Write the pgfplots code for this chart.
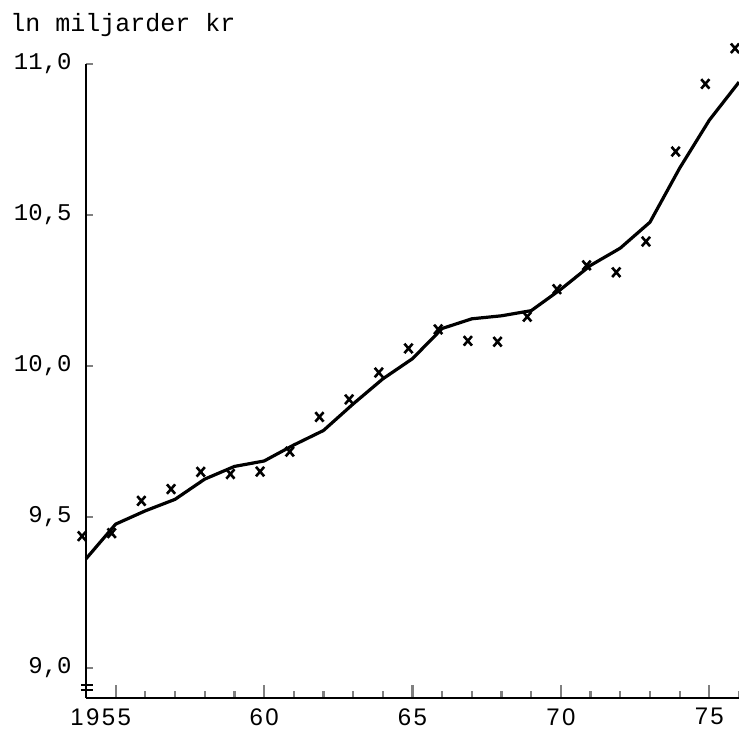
\documentclass[border=0pt]{standalone}
\usepackage{fontspec}
\setmainfont{Liberation Sans}
\newfontfamily\monofont{Liberation Mono}
\newfontfamily\xfont[LetterSpace=10]{Liberation Sans}
\usepackage{pgfplots}
\pgfplotsset{compat=1.18}
\begin{document}
\begin{tikzpicture}
\useasboundingbox (-43pt,-18pt) rectangle (326.5pt,349pt);
\begin{axis}[
  at={(0,0)}, anchor=south west,
  scale only axis, width=326.5pt, height=317pt,
  xmin=1954, xmax=1976, ymin=8.9, ymax=11.0,
  clip=false,
  axis x line*=bottom, axis y line*=left,
  axis line style={line width=1.1pt},
  tick align=inside,
  xtick={1955,1960,1965,1970,1975},
  xticklabels={{\kern-15pt 1955},60,65,70,75},
  minor xtick={1956,1957,1958,1959,1961,1962,1963,1964,1966,1967,1968,1969,1971,1972,1973,1974,1976},
  ytick={9,9.5,10,10.5,11},
  yticklabels={{9,0},{9,5},{10,0},{10,5},{11,0}},
  minor ytick={9,9.5,10,10.5,11},
  major tick length=6.5pt, minor tick length=3.5pt,
  major x tick style={line width=1.1pt},
  minor x tick style={line width=1.1pt},
  major y tick style={draw=none},
  minor y tick style={line width=1.1pt},
  xticklabel style={font=\xfont\fontsize{12}{14}\selectfont, inner sep=0pt},
  yticklabel style={font=\monofont\fontsize{12}{14}\selectfont, inner sep=0pt},
  xticklabel shift=5pt,
  yticklabel shift=7pt,
]
\addplot[black, line width=1.6pt, no marks] coordinates {
(1954,9.361) (1955,9.476) (1956,9.520) (1957,9.558) (1958,9.625)
(1959,9.667) (1960,9.685) (1961,9.738) (1962,9.786) (1963,9.874)
(1964,9.957) (1965,10.024) (1966,10.124) (1967,10.156) (1968,10.166)
(1969,10.183) (1970,10.254) (1971,10.333) (1972,10.390) (1973,10.476)
(1974,10.655) (1975,10.814) (1976,10.940)
};
\addplot[black, only marks, mark=x, mark size=2.9pt,
  mark options={line width=1.3pt, xshift=-2pt, yscale=1.15}] coordinates {
(1954,9.436) (1955,9.446) (1956,9.553) (1957,9.592) (1958,9.649)
(1959,9.642) (1960,9.650) (1961,9.716) (1962,9.831) (1963,9.889)
(1964,9.978) (1965,10.058) (1966,10.121) (1967,10.083) (1968,10.080)
(1969,10.163) (1970,10.254) (1971,10.333) (1972,10.310) (1973,10.412)
(1974,10.710) (1975,10.934) (1976,11.052)
};
\draw[line width=1pt] ([xshift=-2.5pt]rel axis cs:0,0.02095) -- ([xshift=3.5pt]rel axis cs:0,0.02095);
\draw[line width=1pt] ([xshift=-2.5pt]rel axis cs:0,0.01286) -- ([xshift=3.5pt]rel axis cs:0,0.01286);
\end{axis}
\node[anchor=base west, inner sep=0pt, font=\monofont\fontsize{12.5}{15}\selectfont] at (-38pt,333pt) {ln miljarder kr};
\end{tikzpicture}
\end{document}
